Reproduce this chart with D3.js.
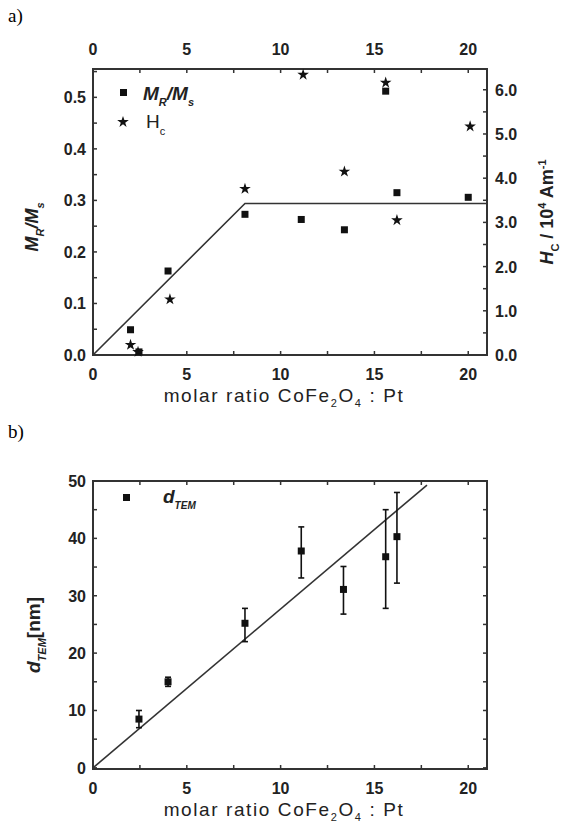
<!DOCTYPE html>
<html>
<head>
<meta charset="utf-8">
<script src="https://cdn.jsdelivr.net/npm/d3@7"></script>
<style>
  body { margin: 0; background: #fff; }
  svg { display: block; }
  text { font-family: "Liberation Sans", Arial, sans-serif; fill: #222; }
</style>
</head>
<body>
<div id="chart"></div>
<script>
// panel a) remanence ratio and coercivity vs molar ratio
const ratioMr = [2.0, 2.45, 4.0, 8.1, 11.1, 13.4, 15.6, 16.2, 20.0]
const mrMs = [0.049, 0.006, 0.163, 0.273, 0.263, 0.243, 0.512, 0.315, 0.306]
const ratioHc = [2.0, 2.4, 4.1, 8.1, 11.2, 13.4, 15.6, 16.2, 20.1]
const hc = [0.23, 0.07, 1.26, 3.76, 6.34, 4.15, 6.16, 3.05, 5.17]
const fitA = [[0, 0], [8.1, 0.294], [21, 0.294]]

// panel b) TEM diameter
const ratioTem = [2.45, 4.0, 8.1, 11.1, 13.35, 15.6, 16.2]
const dTem = [8.5, 15.0, 25.2, 37.8, 31.1, 36.8, 40.3]
const dLow = [7.0, 14.2, 22.0, 33.1, 26.8, 27.8, 32.2]
const dHigh = [10.0, 15.8, 27.8, 42.0, 35.1, 45.0, 48.0]
const fitB = [[0, 0], [17.8, 49.3]]

const xTicks = [0, 5, 10, 15, 20]

const W = 566, H = 827
const svg = d3.select("#chart").append("svg").attr("width", W).attr("height", H)

const left = 93, right = 487

// labels a) b)
svg.append("text").text("a)").attr("x", 8).attr("y", 22)
  .style("font-family", "'Liberation Serif', 'Times New Roman', serif").style("font-size", "19px").style("fill", "#000")
svg.append("text").text("b)").attr("x", 8).attr("y", 438)
  .style("font-family", "'Liberation Serif', 'Times New Roman', serif").style("font-size", "19px").style("fill", "#000")

function frame(g, top, bottom) {
  g.append("rect").attr("x", left).attr("y", top).attr("width", right - left).attr("height", bottom - top)
    .attr("fill", "none").attr("stroke", "#333").attr("stroke-width", 2)
}

function ticks(g, scale, vals, orient, pos, len) {
  vals.forEach(v => {
    const p = scale(v)
    if (orient === "bottom") g.append("line").attr("x1", p).attr("x2", p).attr("y1", pos).attr("y2", pos - len)
    if (orient === "top") g.append("line").attr("x1", p).attr("x2", p).attr("y1", pos).attr("y2", pos + len)
    if (orient === "left") g.append("line").attr("y1", p).attr("y2", p).attr("x1", pos).attr("x2", pos + len)
    if (orient === "right") g.append("line").attr("y1", p).attr("y2", p).attr("x1", pos).attr("x2", pos - len)
  })
  g.selectAll("line").attr("stroke", "#333").attr("stroke-width", 1.5)
}

const tickFont = g => g.style("font-size", "16px").style("font-weight", "bold")

// ---------- panel a ----------
const topA = 69, botA = 355
const xA = d3.scaleLinear().domain([0, 21]).range([left, right])
const yA = d3.scaleLinear().domain([0, 0.555]).range([botA, topA])
const yHc = d3.scaleLinear().domain([0, 6.47]).range([botA, topA])

const ga = svg.append("g")
frame(ga, topA, botA)
const ta = ga.append("g")
ticks(ta, xA, d3.range(0, 21, 2.5), "bottom", botA, 4)
ticks(ta, xA, d3.range(0, 21, 2.5), "top", topA, 4)
ticks(ta, yA, d3.range(0, 0.56, 0.05), "left", left, 4)
ticks(ta, yHc, d3.range(0, 6.5, 0.5), "right", right, 4)

xTicks.forEach(v => {
  ga.append("text").text(v).attr("x", xA(v)).attr("y", 380).attr("text-anchor", "middle").call(tickFont)
  ga.append("text").text(v).attr("x", xA(v)).attr("y", 55).attr("text-anchor", "middle").call(tickFont)
})
d3.range(0, 0.51, 0.1).forEach(v => {
  ga.append("text").text(v.toFixed(1)).attr("x", left - 7).attr("y", yA(v) + 6).attr("text-anchor", "end").call(tickFont)
})
d3.range(0, 6.01, 1).forEach(v => {
  ga.append("text").text(v.toFixed(1)).attr("x", right + 8).attr("y", yHc(v) + 6).attr("text-anchor", "start").call(tickFont)
})

ga.append("path").datum(fitA)
  .attr("d", d3.line().x(d => xA(d[0])).y(d => yA(d[1])))
  .attr("fill", "none").attr("stroke", "#333").attr("stroke-width", 1.6)

ga.selectAll(".sq").data(ratioMr).join("rect").attr("class", "sq")
  .attr("x", (d, i) => xA(d) - 3.5).attr("y", (d, i) => yA(mrMs[i]) - 3.5)
  .attr("width", 7).attr("height", 7).attr("fill", "#111")

const star = d3.symbol().type(d3.symbolStar).size(42)
ga.selectAll(".st").data(ratioHc).join("path").attr("class", "st")
  .attr("transform", (d, i) => `translate(${xA(d)},${yHc(hc[i])})`)
  .attr("d", star).attr("fill", "#111")

// legend a
ga.append("rect").attr("x", 120).attr("y", 89).attr("width", 7).attr("height", 7).attr("fill", "#111")
const l1 = ga.append("text").attr("x", 143).attr("y", 100).style("font-size", "19px").style("font-weight", "bold").style("font-style", "italic")
l1.append("tspan").text("M")
l1.append("tspan").text("R").attr("dy", 6).style("font-size", "11px")
l1.append("tspan").text("/M").attr("dy", -6)
l1.append("tspan").text("s").attr("dy", 6).style("font-size", "11px")
ga.append("path").attr("transform", "translate(123,122)").attr("d", star).attr("fill", "#111")
const l2 = ga.append("text").attr("x", 146).attr("y", 128).style("font-size", "19px")
l2.append("tspan").text("H")
l2.append("tspan").text("c").attr("dy", 7).style("font-size", "11px")

// axis titles a
const yt1 = ga.append("text").attr("transform", `translate(38,${(topA + botA) / 2 + 15}) rotate(-90)`)
  .attr("text-anchor", "middle").style("font-size", "18px").style("font-weight", "bold").style("font-style", "italic")
yt1.append("tspan").text("M")
yt1.append("tspan").text("R").attr("dy", 6).style("font-size", "11px")
yt1.append("tspan").text("/M").attr("dy", -6)
yt1.append("tspan").text("s").attr("dy", 6).style("font-size", "11px")

const yt2 = ga.append("text").attr("transform", `translate(553,${(topA + botA) / 2}) rotate(-90)`)
  .attr("text-anchor", "middle").style("font-size", "18px").style("font-weight", "bold")
yt2.append("tspan").text("H").style("font-style", "italic")
yt2.append("tspan").text("C").attr("dy", 6).style("font-size", "11px")
yt2.append("tspan").text(" / 10").attr("dy", -6)
yt2.append("tspan").text("4").attr("dy", -7).style("font-size", "11px")
yt2.append("tspan").text(" Am").attr("dy", 7)
yt2.append("tspan").text("-1").attr("dy", -7).style("font-size", "11px")

function xTitle(g, y) {
  const t = g.append("text").attr("x", 284).attr("y", y).attr("text-anchor", "middle")
    .style("font-size", "19px").style("letter-spacing", "1.6px")
  t.append("tspan").text("molar ratio CoFe")
  t.append("tspan").text("2").attr("dy", 5).style("font-size", "11px")
  t.append("tspan").text("O").attr("dy", -5)
  t.append("tspan").text("4").attr("dy", 5).style("font-size", "11px")
  t.append("tspan").text(" :  Pt").attr("dy", -5)
}
xTitle(ga, 402)

// ---------- panel b ----------
const topB = 481, botB = 769
const xB = d3.scaleLinear().domain([0, 21]).range([left, right])
const yB = d3.scaleLinear().domain([-0.2, 50]).range([botB, topB])

const gb = svg.append("g")
frame(gb, topB, botB)
const tb = gb.append("g")
ticks(tb, xB, d3.range(0, 21, 2.5), "bottom", botB, 4)
ticks(tb, xB, d3.range(0, 21, 2.5), "top", topB, 4)
ticks(tb, yB, d3.range(0, 51, 5), "left", left, 4)
ticks(tb, yB, d3.range(0, 51, 5), "right", right, 4)

xTicks.forEach(v => {
  gb.append("text").text(v).attr("x", xB(v)).attr("y", 794).attr("text-anchor", "middle").call(tickFont)
})
d3.range(0, 51, 10).forEach(v => {
  gb.append("text").text(v).attr("x", left - 7).attr("y", yB(v) + 6).attr("text-anchor", "end").call(tickFont)
})

gb.append("path").datum(fitB)
  .attr("d", d3.line().x(d => xB(d[0])).y(d => yB(d[1])))
  .attr("fill", "none").attr("stroke", "#333").attr("stroke-width", 1.6)

const eb = gb.selectAll(".eb").data(ratioTem).join("g").attr("class", "eb")
eb.append("line").attr("x1", d => xB(d)).attr("x2", d => xB(d))
  .attr("y1", (d, i) => yB(dLow[i])).attr("y2", (d, i) => yB(dHigh[i]))
  .attr("stroke", "#111").attr("stroke-width", 1.6)
eb.append("line").attr("x1", d => xB(d) - 3).attr("x2", d => xB(d) + 3)
  .attr("y1", (d, i) => yB(dLow[i])).attr("y2", (d, i) => yB(dLow[i]))
  .attr("stroke", "#111").attr("stroke-width", 1.6)
eb.append("line").attr("x1", d => xB(d) - 3).attr("x2", d => xB(d) + 3)
  .attr("y1", (d, i) => yB(dHigh[i])).attr("y2", (d, i) => yB(dHigh[i]))
  .attr("stroke", "#111").attr("stroke-width", 1.6)
eb.append("rect").attr("x", d => xB(d) - 3.5).attr("y", (d, i) => yB(dTem[i]) - 3.5)
  .attr("width", 7).attr("height", 7).attr("fill", "#111")

// legend b
gb.append("rect").attr("x", 123).attr("y", 494).attr("width", 7).attr("height", 7).attr("fill", "#111")
const l3 = gb.append("text").attr("x", 163).attr("y", 503).style("font-size", "19px").style("font-weight", "bold").style("font-style", "italic")
l3.append("tspan").text("d")
l3.append("tspan").text("TEM").attr("dy", 6).style("font-size", "10px")

const yt3 = gb.append("text").attr("transform", `translate(40,${(topB + botB) / 2 + 10}) rotate(-90)`)
  .attr("text-anchor", "middle").style("font-size", "19px").style("font-weight", "bold")
yt3.append("tspan").text("d").style("font-style", "italic")
yt3.append("tspan").text("TEM").attr("dy", 6).style("font-size", "11px").style("font-style", "italic")
yt3.append("tspan").text("[nm]").attr("dy", -6)

xTitle(gb, 816)
</script>
</body>
</html>
